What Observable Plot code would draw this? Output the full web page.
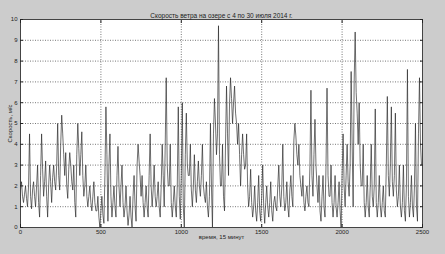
<!DOCTYPE html>
<html><head><meta charset="utf-8">
<script src="https://cdn.jsdelivr.net/npm/d3@7"></script>
<script src="https://cdn.jsdelivr.net/npm/@observablehq/plot@0.6"></script>
<style>
html,body{margin:0;padding:0;background:#cccccc;}
</style>
</head><body>
<div id="chart"></div>
<script>
const title = "Скорость ветра на озере с 4 по 30 июля 2014 г.";
const xLabel = "время, 15 минут";
const yLabel = "Скорость, м/с";
const xTicks = [0, 500, 1000, 1500, 2000, 2500];
const yTicks = [0, 1, 2, 3, 4, 5, 6, 7, 8, 9, 10];
const step = 6.25; // time spacing of the samples (~1 px)
// wind speed, m/s
const speed = [
 1.8,2.2,1.5,1.2, 1.6,2.0,1.4,1.0, 2.0,4.5,1.5,0.9, 1.8,2.2,1.5,1.0, 2.0,3.0,1.2,0.5,
 2.5,4.5,2.8,1.5, 2.2,3.2,1.5,0.5, 2.0,3.0,2.2,1.2, 2.4,3.0,2.2,1.8, 3.0,5.0,2.5,1.8,
 4.0,5.4,4.5,3.5, 2.5,3.6,2.0,1.4, 2.8,3.6,3.0,2.2, 1.8,3.0,1.2,0.5, 3.5,5.0,3.8,2.5,
 3.5,4.6,2.5,1.5, 2.0,3.0,1.5,1.0, 1.5,2.0,1.2,0.8, 1.5,2.2,1.2,0.8, 0.8,1.5,0.5,0.0,
 0.8,1.5,0.6,0.2, 2.5,5.8,3.5,0.3, 3.0,4.5,1.5,0.5, 1.2,2.0,1.0,0.5, 2.5,3.9,2.0,1.0,
 2.0,3.0,1.2,0.5, 1.0,2.0,0.8,0.1, 0.6,1.5,0.5,0.0, 1.5,2.5,1.0,0.3, 3.0,4.0,3.2,2.5,
 1.5,2.5,1.2,0.5, 1.2,2.0,1.0,0.5, 2.5,4.5,2.0,1.0, 1.8,3.0,1.5,1.0, 1.5,2.2,1.0,0.5,
 2.0,4.0,2.5,1.0, 4.0,7.2,3.0,2.0, 2.0,4.0,1.2,0.5, 1.2,2.0,1.0,0.5, 2.0,5.8,1.5,0.4,
 2.5,6.0,1.0,0.0, 3.5,5.5,3.0,2.5, 2.5,4.0,1.8,1.0, 2.0,3.5,1.8,1.2, 2.2,3.2,2.0,1.5,
 2.5,4.0,2.0,1.5, 1.2,2.2,1.0,0.5, 1.5,5.0,2.0,0.0, 4.5,6.2,5.0,3.5, 4.5,9.7,3.5,2.0,
 2.0,4.0,1.5,0.8, 4.0,6.8,4.5,2.5, 6.0,7.2,6.2,5.0, 6.0,6.8,5.5,5.0, 4.0,5.0,3.5,2.0,
 3.5,4.5,3.5,2.8, 3.0,4.5,2.0,1.0, 1.5,2.8,1.2,0.5, 1.0,2.0,0.8,0.3, 1.2,2.5,0.8,0.3,
 1.5,3.0,1.0,0.2, 1.2,2.0,1.0,0.5, 1.2,2.2,0.8,0.3, 1.2,1.5,1.0,0.8, 2.0,3.0,1.5,1.0,
 2.0,4.0,1.5,0.8, 1.2,2.2,1.0,0.5, 1.8,2.5,1.5,1.0, 4.2,5.0,4.4,3.5, 3.0,4.0,2.5,2.0,
 1.5,2.5,1.2,0.8, 1.5,2.0,1.2,1.0, 3.0,6.6,2.5,1.5, 3.5,5.2,3.0,2.0, 1.2,2.5,0.8,0.3,
 1.5,2.5,1.0,0.5, 3.0,6.7,2.5,1.5, 1.5,3.0,1.2,0.5, 1.2,2.5,1.0,0.5, 1.2,2.2,0.8,0.0,
 2.5,4.5,2.0,1.0, 2.5,4.0,2.2,1.5, 3.0,7.5,4.0,1.0, 7.0,9.4,6.5,5.5, 4.0,6.0,3.0,2.0,
 2.0,4.0,1.2,0.5, 1.2,2.5,1.0,0.5, 2.0,4.0,1.5,1.0, 2.0,5.7,1.2,0.5, 1.2,2.5,1.0,0.5,
 1.2,2.0,0.8,0.5, 3.0,6.3,2.5,1.5, 3.0,5.8,2.2,1.5, 2.5,5.5,1.8,1.0, 1.5,3.0,1.0,0.5,
 1.2,3.0,0.8,0.3, 2.0,7.6,1.5,0.5, 1.2,2.5,1.0,0.5, 2.0,5.0,1.0,0.3, 4.5,7.2,4.0,3.0,
 3.0
];
const data = speed.map((v, i) => ({t: i * step, v}));
const fmt = d => String(d);
const blank = () => "";

const chart = Plot.plot({
  width: 445,
  height: 254,
  marginLeft: 20,
  marginRight: 23,
  marginTop: 19,
  marginBottom: 27,
  style: {background: "#cccccc", fontFamily: "'Liberation Sans', Arial, sans-serif", fontSize: "6px", color: "#222"},
  x: {domain: [0, 2500]},
  y: {domain: [0, 10]},
  marks: [
    Plot.frame({fill: "white", stroke: "none"}),
    Plot.gridX(xTicks, {stroke: "#555", strokeOpacity: 1, strokeDasharray: "1,1.5", strokeWidth: 0.8}),
    Plot.gridY(yTicks, {stroke: "#555", strokeOpacity: 1, strokeDasharray: "1,1.5", strokeWidth: 0.8}),
    Plot.line(data, {x: "t", y: "v", stroke: "#222", strokeWidth: 0.65}),
    Plot.frame({stroke: "#444", strokeWidth: 1}),
    Plot.axisX(xTicks, {anchor: "bottom", tickSize: 0, tickPadding: 2, tickFormat: fmt, label: xLabel, labelAnchor: "center", labelArrow: "none", labelOffset: 11}),
    Plot.axisX(xTicks, {anchor: "bottom", tickSize: -3, tickFormat: blank, label: null}),
    Plot.axisX(xTicks, {anchor: "top", tickSize: -3, tickFormat: blank, label: null}),
    Plot.axisY(yTicks, {anchor: "left", tickSize: 0, tickPadding: 3, tickFormat: fmt, label: yLabel, labelAnchor: "center", labelArrow: "none", labelOffset: 13}),
    Plot.axisY(yTicks, {anchor: "left", tickSize: -3, tickFormat: blank, label: null}),
    Plot.axisY(yTicks, {anchor: "right", tickSize: -3, tickFormat: blank, label: null}),
    Plot.text([title], {frameAnchor: "top", dy: -6, fontSize: 6.5, fill: "#222"})
  ]
});
document.getElementById("chart").appendChild(chart);
</script>
</body></html>
